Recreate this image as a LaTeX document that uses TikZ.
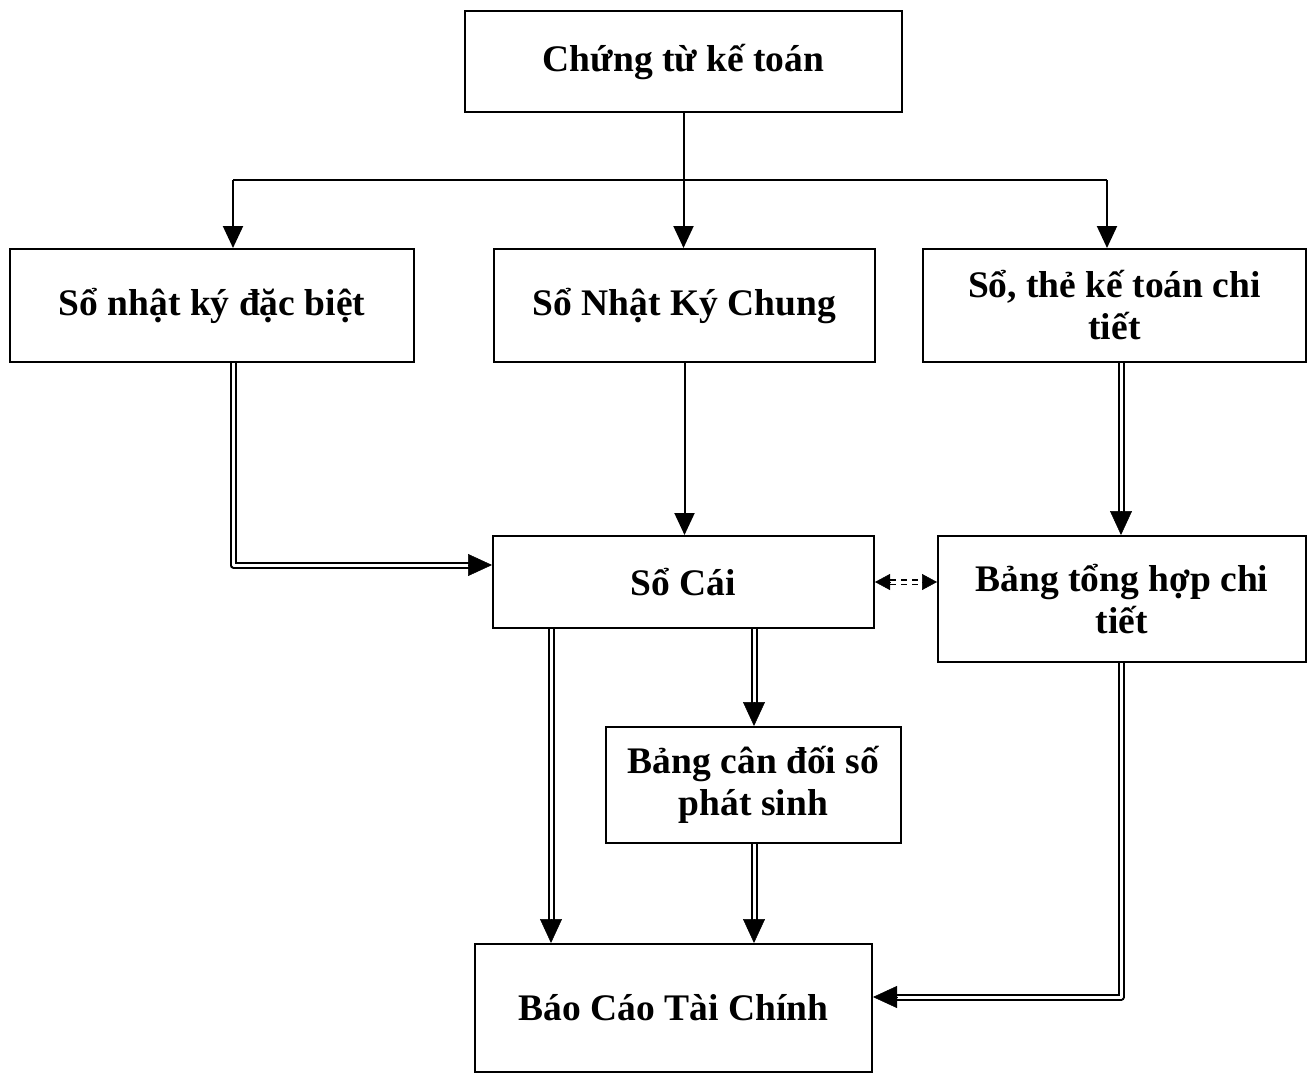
\documentclass[tikz,border=0pt]{standalone}
\usepackage{fontspec}
\setmainfont{Liberation Serif}
\usetikzlibrary{arrows.meta,calc}
\begin{document}
\begin{tikzpicture}[x=1pt,y=-1pt,
  box/.style={draw, line width=2pt, inner sep=0pt, align=center,
    font=\fontsize{37.5}{42}\selectfont\bfseries},
  single/.style={line width=2pt, -{Triangle[length=22pt,width=20pt]}},
  plain/.style={line width=2pt},
  dbl/.style={double, double distance=3pt, line width=2pt, shorten >=21pt, line join=round},
  tipdn/.style={line width=0.5pt, -{Triangle[length=24pt,width=22pt]}},
  dsh/.style={double, double distance=3pt, line width=1.8pt, dash pattern=on 6pt off 5pt,
    shorten <=15pt, shorten >=15pt},
  small/.style={line width=0.5pt, -{Triangle[length=15pt,width=16pt]}}
]
\useasboundingbox (0,0) rectangle (1312,1079);

% boxes
\node[box, minimum width=437pt, minimum height=101pt] (top)  at (683.5,61.5) {Chứng từ kế toán};
\node[box, minimum width=404pt, minimum height=113pt] (snk)  at (212,305.5)  {Sổ nhật ký đặc biệt};
\node[box, minimum width=381pt, minimum height=113pt] (snkc) at (684.5,305.5) {Sổ Nhật Ký Chung};
\node[box, minimum width=383pt, minimum height=113pt] (sthe) at (1114.5,305.5) {Sổ, thẻ kế toán chi\\tiết};
\node[box, minimum width=381pt, minimum height=92pt]  (scai) at (683.5,582)  {Sổ Cái};
\node[box, minimum width=368pt, minimum height=126pt] (bth)  at (1122,599)   {Bảng tổng hợp chi\\tiết};
\node[box, minimum width=295pt, minimum height=116pt] (bcd)  at (753.5,785)  {Bảng cân đối số\\phát sinh};
\node[box, minimum width=397pt, minimum height=128pt] (bctc) at (673.5,1008) {Báo Cáo Tài Chính};

% reference points
\coordinate (jL) at (233,180);
\coordinate (jR) at (1107,180);
\coordinate (xA) at (551,0);
\coordinate (xB) at (754,0);
\coordinate (xR) at (1121,0);
\coordinate (inL) at ($(scai.west)+(0,-17)$);
\coordinate (inR) at ($(bctc.east)+(0,-11)$);

% distribution from the source documents
\draw[single] (top.south) -- (top.south |- snkc.north);
\draw[plain] (jL) -- (jR);
\draw[single] (jL) -- (jL |- snk.north);
\draw[single] (jR) -- (jR |- sthe.north);

% general journal to ledger
\draw[single] (snkc.south) -- (snkc.south |- scai.north);

% special journal to ledger
\draw[dbl] (snk.south -| jL) |- (inL);
\draw[tipdn] ($(inL)+(-24,0)$) -- (inL);

% detail books to summary table
\draw[dbl] (sthe.south -| xR) -- (bth.north -| xR);
\draw[tipdn] ($(bth.north -| xR)+(0,-24)$) -- (bth.north -| xR);

% ledger <-> summary table (reconciliation)
\draw[dsh] (scai.east) -- (bth.west |- scai.east);
\draw[small] ($(scai.east)+(15,0)$) -- (scai.east);
\draw[small] ($(bth.west |- scai.east)+(-15,0)$) -- (bth.west |- scai.east);

% ledger to financial statements
\draw[dbl] (scai.south -| xA) -- (bctc.north -| xA);
\draw[tipdn] ($(bctc.north -| xA)+(0,-24)$) -- (bctc.north -| xA);

% ledger to trial balance
\draw[dbl] (scai.south -| xB) -- (bcd.north -| xB);
\draw[tipdn] ($(bcd.north -| xB)+(0,-24)$) -- (bcd.north -| xB);

% trial balance to financial statements
\draw[dbl] (bcd.south -| xB) -- (bctc.north -| xB);
\draw[tipdn] ($(bctc.north -| xB)+(0,-24)$) -- (bctc.north -| xB);

% summary table to financial statements
\draw[dbl] (bth.south -| xR) |- (inR);
\draw[tipdn] ($(inR)+(24,0)$) -- (inR);
\end{tikzpicture}
\end{document}
